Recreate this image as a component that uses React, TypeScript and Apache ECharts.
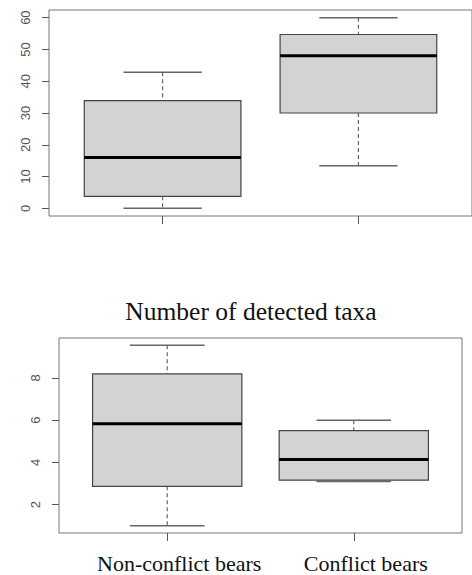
import React, { useEffect, useRef } from "react";
import * as echarts from "echarts";

const categories = ["Non-conflict bears", "Conflict bears"];
const categoryPositions = [1, 2];

// Top panel
const topMin = [0, 13.4];
const topQ1 = [3.8, 30.0];
const topMedian = [16.0, 48.0];
const topQ3 = [33.9, 54.7];
const topMax = [42.8, 60.0];
const topTicks = [0, 10, 20, 30, 40, 50, 60];

// Bottom panel: Number of detected taxa
const taxaMin = [1.0, 3.1];
const taxaQ1 = [2.87, 3.16];
const taxaMedian = [5.83, 4.14];
const taxaQ3 = [8.19, 5.51];
const taxaMax = [9.55, 6.0];
const taxaTicks = [2, 4, 6, 8];

const titleText = "Number of detected taxa";

const BOX_WEX = 0.8;
const STAPLE_WEX = 0.5;

function buildRows(mins: number[], q1: number[], med: number[], q3: number[], maxs: number[]) {
  return categoryPositions.map((p, i) => [p, mins[i], q1[i], med[i], q3[i], maxs[i]]);
}

function rRange(lo: number, hi: number): [number, number] {
  const d = (hi - lo) * 0.04;
  return [lo - d, hi + d];
}

const renderBox = (params: any, api: any) => {
  const x = api.value(0);
  const lo = api.value(1);
  const q1 = api.value(2);
  const med = api.value(3);
  const q3 = api.value(4);
  const hi = api.value(5);
  const halfW = api.size([BOX_WEX, 0])[0] / 2;
  const capHalf = halfW * STAPLE_WEX;
  const cx = api.coord([x, med])[0];
  const y = (v: number) => api.coord([x, v])[1];
  const whiskerStyle = { stroke: "#666", lineWidth: 1.2, lineDash: [4, 3] };
  const capStyle = { stroke: "#666", lineWidth: 1.5 };
  return {
    type: "group",
    children: [
      { type: "line", shape: { x1: cx, y1: y(hi), x2: cx, y2: y(q3) }, style: whiskerStyle },
      { type: "line", shape: { x1: cx, y1: y(q1), x2: cx, y2: y(lo) }, style: whiskerStyle },
      { type: "line", shape: { x1: cx - capHalf, y1: y(hi), x2: cx + capHalf, y2: y(hi) }, style: capStyle },
      { type: "line", shape: { x1: cx - capHalf, y1: y(lo), x2: cx + capHalf, y2: y(lo) }, style: capStyle },
      {
        type: "rect",
        shape: { x: cx - halfW, y: y(q3), width: halfW * 2, height: y(q1) - y(q3) },
        style: { fill: "#d3d3d3", stroke: "#444", lineWidth: 1.2 },
      },
      { type: "line", shape: { x1: cx - halfW, y1: y(med), x2: cx + halfW, y2: y(med) }, style: { stroke: "#000", lineWidth: 3 } },
    ],
  };
};

export default function App() {
  const ref = useRef<HTMLDivElement>(null);

  useEffect(() => {
    document.body.style.margin = "0";
    if (!ref.current) return;
    const chart = echarts.init(ref.current, undefined, { renderer: "svg" });
    const [topLo, topHi] = rRange(0, 60);
    const [botLo, botHi] = rRange(Math.min(...taxaMin), Math.max(...taxaMax));
    const xRange = rRange(0.5, 2.5);

    const yAxisCommon = (ticks: number[], lo: number, hi: number, gridIndex: number) => ({
      type: "value",
      gridIndex,
      min: lo,
      max: hi,
      axisLine: { show: false, onZero: false },
      splitLine: { show: false },
      axisTick: { show: true, customValues: ticks, length: 7, lineStyle: { color: "#555", width: 1 } },
      axisLabel: {
        show: true,
        customValues: ticks,
        rotate: 90,
        margin: 17,
        fontSize: 13,
        fontFamily: "Liberation Sans",
        color: "#555",
      },
    });

    chart.setOption({
      animation: false,
      grid: [
        { left: 49, top: 10, width: 426, height: 206, show: true, borderColor: "#777", borderWidth: 1, backgroundColor: "transparent" },
        { left: 59, top: 338, width: 403, height: 195, show: true, borderColor: "#777", borderWidth: 1, backgroundColor: "transparent" },
      ],
      xAxis: [
        {
          type: "value",
          gridIndex: 0,
          min: xRange[0],
          max: xRange[1],
          axisLine: { show: false, onZero: false },
          splitLine: { show: false },
          axisTick: { show: true, customValues: categoryPositions, length: 8, lineStyle: { color: "#555" } },
          axisLabel: { show: false },
        },
        {
          type: "value",
          gridIndex: 1,
          min: xRange[0],
          max: xRange[1],
          axisLine: { show: false, onZero: false },
          splitLine: { show: false },
          axisTick: { show: true, customValues: categoryPositions, length: 8, lineStyle: { color: "#555" } },
          axisLabel: {
            show: true,
            customValues: categoryPositions,
            formatter: (v: number) => categories[Math.round(v) - 1] ?? "",
            fontFamily: "Liberation Serif",
            fontSize: 22,
            color: "#111",
            margin: 19,
            padding: [0, 0, 0, 24],
          },
        },
      ],
      yAxis: [yAxisCommon(topTicks, topLo, topHi, 0), yAxisCommon(taxaTicks, botLo, botHi, 1)],
      graphic: [
        {
          type: "text",
          x: 251,
          y: 311,
          style: {
            text: titleText,
            fill: "#111",
            font: "25.5px 'Liberation Serif'",
            textAlign: "center",
            textVerticalAlign: "middle",
          },
        },
      ],
      series: [
        {
          type: "custom",
          xAxisIndex: 0,
          yAxisIndex: 0,
          renderItem: renderBox,
          encode: { x: 0, y: [1, 2, 3, 4, 5] },
          data: buildRows(topMin, topQ1, topMedian, topQ3, topMax),
        },
        {
          type: "custom",
          xAxisIndex: 1,
          yAxisIndex: 1,
          renderItem: renderBox,
          encode: { x: 0, y: [1, 2, 3, 4, 5] },
          data: buildRows(taxaMin, taxaQ1, taxaMedian, taxaQ3, taxaMax),
        },
      ],
    });
    return () => chart.dispose();
  }, []);

  return <div ref={ref} style={{ width: 472, height: 575 }} />;
}
